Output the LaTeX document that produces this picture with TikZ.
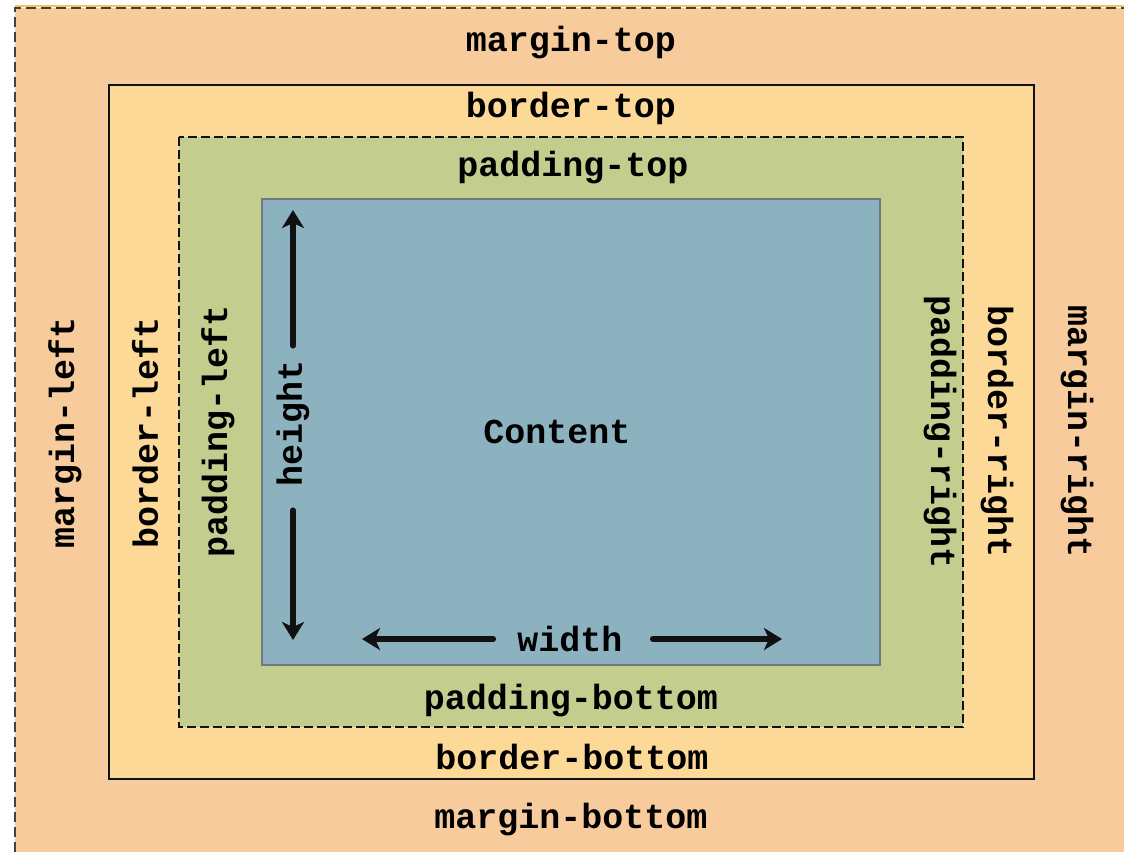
\documentclass[tikz,border=0pt]{standalone}
\usepackage{fontspec}
\setmonofont{Liberation Mono}
\usetikzlibrary{arrows.meta}
\definecolor{MarginFill}{HTML}{F8CB9D}
\definecolor{MarginEdge}{HTML}{F2C65C}
\definecolor{BorderFill}{HTML}{FDD997}
\definecolor{PaddingFill}{HTML}{C3CD8E}
\definecolor{ContentFill}{HTML}{8CB2C0}
\definecolor{ContentEdge}{HTML}{707A7E}
\definecolor{Ink}{HTML}{111111}

\begin{document}
\begin{tikzpicture}[
  x=0.5pt,y=-0.5pt,
  lbl/.style={font=\fontsize{17.5}{20}\selectfont\ttfamily\bfseries,inner sep=0pt},
  arr/.style={-{Stealth[length=9pt,width=11pt,inset=2.5pt]},line width=3pt,line cap=round,Ink},
  boxedge/.style={draw=Ink,line width=0.8pt}
]
  \useasboundingbox (0,0) rectangle (1124,852);
  % margin area
  \fill[MarginFill] (15,8) rectangle (1124,852);
  \draw[MarginEdge,line width=1pt] (15,6) -- (1124,6);
  \draw[boxedge,draw=Ink!80,dash pattern=on 5pt off 2.5pt] (15,852) -- (15,8) -- (1124,8);
  % border, padding, content
  \draw[boxedge,fill=BorderFill] (109,85) rectangle (1034,779);
  \draw[boxedge,fill=PaddingFill,line width=0.6pt,dash pattern=on 4.5pt off 2pt] (179,137) rectangle (963,727);
  \draw[draw=ContentEdge,fill=ContentFill,line width=0.6pt] (262,199) rectangle (880,665);

  \node[lbl] (mtop) at (571,43) {margin-top};
  \node[lbl] (btop) at (571,108) {border-top};
  \node[lbl] (ptop) at (573,168) {padding-top};
  \node[lbl] (content) at (557,432) {Content};
  \node[lbl] (pbottom) at (571,701) {padding-bottom};
  \node[lbl] (bbottom) at (572,757) {border-bottom};
  \node[lbl] (mbottom) at (571,820) {margin-bottom};

  \node[lbl,rotate=90] (mleft) at (65,433) {margin-left};
  \node[lbl,rotate=90] (bleft) at (145,433) {border-left};
  \node[lbl,rotate=90] (pleft) at (218,431) {padding-left};
  \node[lbl,rotate=-90] (pright) at (940,432) {padding-right};
  \node[lbl,rotate=-90] (bright) at (997,432) {border-right};
  \node[lbl,rotate=-90] (mright) at (1077,432) {margin-right};

  % height and width
  \node[lbl,rotate=90] (height) at (293,423) {height};
  \node[lbl] (width) at (570,639) {width};
  \coordinate (htop) at (293,210);
  \coordinate (hbot) at (293,640);
  \coordinate (wleft) at (362,639);
  \coordinate (wright) at (782,639);
  \draw[arr,shorten <=7pt] (height.east) -- (htop);
  \draw[arr,shorten <=12pt] (height.west) -- (hbot);
  \draw[arr,shorten <=12pt] (width.west) -- (wleft);
  \draw[arr,shorten <=15pt] (width.east) -- (wright);
\end{tikzpicture}
\end{document}
